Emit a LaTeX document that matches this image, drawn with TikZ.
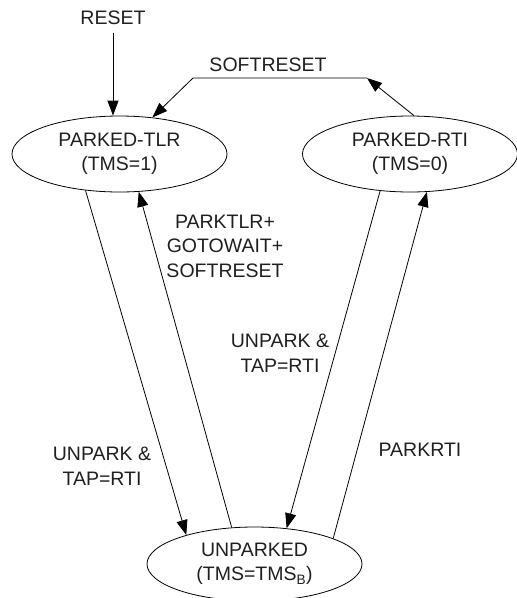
\documentclass[tikz,border=0pt]{standalone}
\usepackage{fontspec}
\setmainfont{Liberation Sans}
\usetikzlibrary{shapes.geometric,arrows.meta}
\begin{document}
\begin{tikzpicture}[x=1pt,y=-1pt,
  every node/.style={font=\fontsize{19.5}{24.5}\selectfont, text=black!88},
  state/.style={draw, line width=0.8pt, ellipse, inner sep=0pt,
    minimum width=215pt, minimum height=76pt, align=center},
  lbl/.style={inner sep=0pt, align=center},
  arr/.style={line width=0.8pt, -{Triangle[length=15pt,width=11pt]}}]
\useasboundingbox (0,0) rectangle (517,598);

% states
\node[state] (tlr) at (119.5,154) {PARKED-TLR\\(TMS=1)};
\node[state] (rti) at (410,154) {PARKED-RTI\\(TMS=0)};
\node[state, minimum height=74pt] (unp) at (254.5,564) {UNPARKED\\(TMS=TMS\textsubscript{B})};

% reset entry
\node[lbl] (reset) at (113,18) {RESET};
\draw[arr] ([yshift=-8pt]reset.south) -- (tlr.north -| reset.south);

% soft reset loop over the top
\coordinate (c1) at (367,78);
\coordinate (c2) at (193,78);
\node[lbl] (soft) at (268,65) {SOFTRESET};
\draw[arr] (rti.84) -- (c1);
\draw[arr] (c1) -- (c2) -- (tlr.48);

% transitions between parked and unparked states
\draw[arr] (tlr.227) -- (unp.157);
\draw[arr] (unp.122) -- (tlr.297.5);
\draw[arr] (rti.231.6) -- (unp.48);
\draw[arr] (unp.18.5) -- (rti.294.4);

% transition labels
\node[lbl] (l1) at (225,246) {PARKTLR+\\GOTOWAIT+\\SOFTRESET};
\node[lbl] (l2) at (280,353) {UNPARK \&\\TAP=RTI};
\node[lbl] (l3) at (102,466) {UNPARK \&\\TAP=RTI};
\node[lbl] (l4) at (420,450) {PARKRTI};
\end{tikzpicture}
\end{document}
